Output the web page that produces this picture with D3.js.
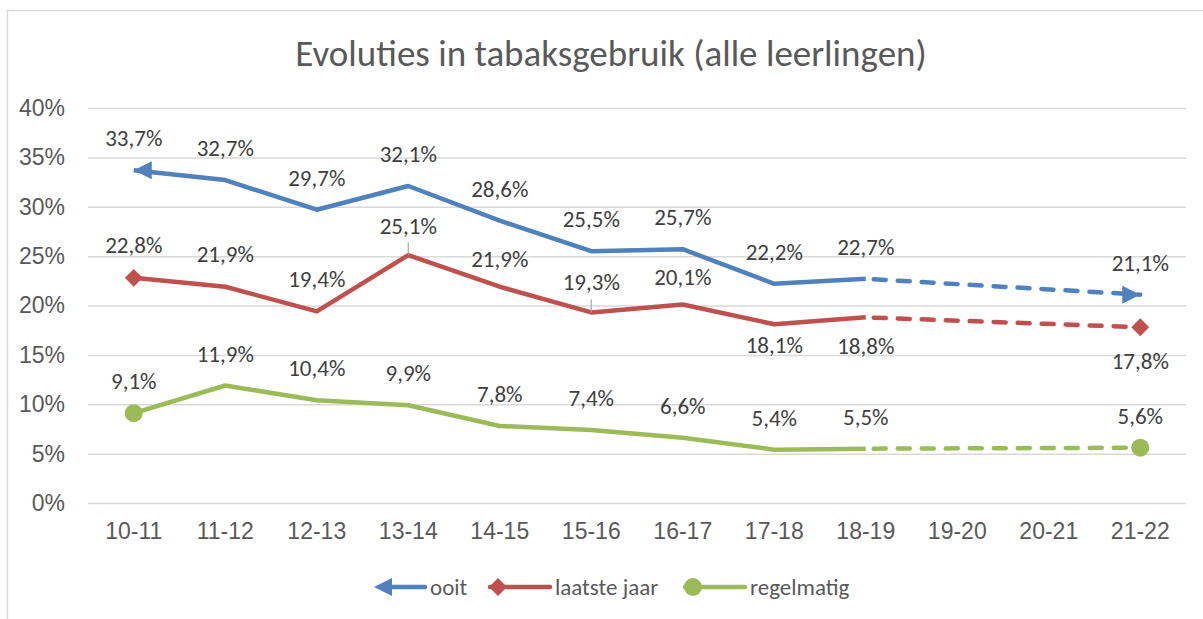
<!DOCTYPE html>
<html>
<head>
<meta charset="utf-8">
<script src="https://cdn.jsdelivr.net/npm/d3@7"></script>
<style>
    body { margin: 0; background: #ffffff; }
    svg { display: block; font-family: Calibri, Carlito, "Open Sans", sans-serif; }
</style>
</head>
<body>
<div id="content"></div>
<script>
// ******* DATA *******
const categories = ["10-11", "11-12", "12-13", "13-14", "14-15", "15-16", "16-17", "17-18", "18-19", "19-20", "20-21", "21-22"];
const ooit = [33.7, 32.7, 29.7, 32.1, 28.6, 25.5, 25.7, 22.2, 22.7, null, null, 21.1];
const laatsteJaar = [22.8, 21.9, 19.4, 25.1, 21.9, 19.3, 20.1, 18.1, 18.8, null, null, 17.8];
const regelmatig = [9.1, 11.9, 10.4, 9.9, 7.8, 7.4, 6.6, 5.4, 5.5, null, null, 5.6];
const yTicks = [0, 5, 10, 15, 20, 25, 30, 35, 40];
const seriesNames = ["ooit", "laatste jaar", "regelmatig"];


// ******* LAYOUT *******
const W = 1203, H = 619;
const margin = { left: 88, right: 17, top: 108, bottom: 116 };
const plotW = W - margin.left - margin.right;
const plotH = H - margin.top - margin.bottom;

const COLORS = ["#4f81bd", "#c0504d", "#9bbb59"];
const LINE_W = 4.5;
const FONT = "23px";

// label offsets (px from point to label centre), red series was moved by hand in the original
const redLabelDy = [-33, -33, -32, -29, -28, -30, -28, 21, 29, 0, 0, 34];
const redLeader = [false, false, false, true, false, true, false, false, false, false, false, false];

const svg = d3.select("#content").append("svg")
    .attr("width", W)
    .attr("height", H);

// chart border
svg.append("rect")
    .attr("x", 7.5).attr("y", 10.5)
    .attr("width", W + 20).attr("height", H + 20)
    .attr("fill", "none")
    .attr("stroke", "#d9d9d9")
    .attr("stroke-width", 1.5);

// title
svg.append("text")
    .attr("x", 611).attr("y", 66)
    .attr("text-anchor", "middle")
    .attr("fill", "#595959")
    .style("font-size", "37px")
    .text("Evoluties in tabaksgebruik (alle leerlingen)");

const g = svg.append("g").attr("transform", `translate(${margin.left},${margin.top})`);

// ******* SCALES & AXES *******
const x = d3.scaleBand().domain(categories).range([0, plotW]);
const y = d3.scaleLinear().domain([0, 40]).range([plotH, 0]);
const cx = d => x(d) + x.bandwidth() / 2;

const yAxis = g.append("g")
    .call(d3.axisLeft(y).tickValues(yTicks).tickSize(-plotW).tickPadding(23).tickFormat(d => d + "%"));
yAxis.select(".domain").remove();
yAxis.selectAll(".tick line").attr("stroke", "#d9d9d9").attr("stroke-width", 1.5);
yAxis.selectAll(".tick text")
    .attr("fill", "#595959")
    .style("font-size", FONT)
    .style("font-family", null);

const xAxis = g.append("g")
    .attr("transform", `translate(0,${plotH})`)
    .call(d3.axisBottom(x).tickSize(0).tickPadding(20));
xAxis.select(".domain").remove();
xAxis.selectAll(".tick text")
    .attr("fill", "#595959")
    .style("font-size", FONT)
    .style("font-family", null);

// ******* LINES *******
const allSeries = [ooit, laatsteJaar, regelmatig].map((vals, si) =>
    vals.map((v, i) => ({ cat: categories[i], v: v, i: i, si: si })));

const line = d3.line()
    .defined(d => d.v !== null)
    .x(d => cx(d.cat))
    .y(d => y(d.v));

allSeries.forEach((pts, si) => {
    const solid = pts.filter(d => d.i <= 8);
    const known = pts.filter(d => d.v !== null);
    const dashed = known.slice(known.length - 2);

    g.append("path")
        .datum(solid)
        .attr("d", line)
        .attr("fill", "none")
        .attr("stroke", COLORS[si])
        .attr("stroke-width", LINE_W)
        .attr("stroke-linejoin", "round");

    g.append("path")
        .datum(dashed)
        .attr("d", line)
        .attr("fill", "none")
        .attr("stroke", COLORS[si])
        .attr("stroke-width", LINE_W)
        .attr("stroke-linecap", "round")
        .attr("stroke-dasharray", "12,12")
        .attr("stroke-dashoffset", -8);

    // end markers
    const first = known[0], last = known[known.length - 1];
    [first, last].forEach((d, k) => drawMarker(g, si, cx(d.cat), y(d.v), k === 0 ? -1 : 1));
});

function drawMarker(sel, si, px, py, dir) {
    if (si === 0) {
        // arrow head, tip on the point
        sel.append("path")
            .attr("d", `M${px},${py} L${px - dir * 18},${py - 9} L${px - dir * 18},${py + 9} Z`)
            .attr("fill", COLORS[si]);
    } else if (si === 1) {
        sel.append("path")
            .attr("d", d3.symbol(d3.symbolSquare, 160)())
            .attr("transform", `translate(${px},${py}) rotate(45)`)
            .attr("fill", COLORS[si]);
    } else {
        sel.append("circle")
            .attr("cx", px).attr("cy", py).attr("r", 9)
            .attr("fill", COLORS[si]);
    }
}

// ******* DATA LABELS *******
allSeries.forEach((pts, si) => {
    pts.filter(d => d.v !== null).forEach(d => {
        const dy = si === 1 ? redLabelDy[d.i] : -32;
        const px = cx(d.cat), py = y(d.v);
        if (si === 1 && redLeader[d.i]) {
            g.append("line")
                .attr("x1", px).attr("x2", px)
                .attr("y1", py).attr("y2", py - 13)
                .attr("stroke", "#a6a6a6")
                .attr("stroke-width", 1.2);
        }
        g.append("text")
            .attr("x", px)
            .attr("y", py + dy)
            .attr("dy", "0.35em")
            .attr("text-anchor", "middle")
            .attr("fill", "#404040")
            .style("font-size", FONT)
            .text(d3.format(".1f")(d.v).replace(".", ",") + "%");
    });
});

// ******* LEGEND *******
const legendY = 587;
const legendItems = [
    { x0: 374, x1: 425, tx: 430 },
    { x0: 490, x1: 550, tx: 555 },
    { x0: 685, x1: 745, tx: 750 }
];
legendItems.forEach((it, si) => {
    svg.append("line")
        .attr("x1", it.x0 + (si === 0 ? 14 : 0)).attr("x2", it.x1)
        .attr("y1", legendY).attr("y2", legendY)
        .attr("stroke", COLORS[si])
        .attr("stroke-width", LINE_W)
        .attr("stroke-linecap", "round");
    if (si === 0) drawMarker(svg, si, it.x0, legendY, -1);
    else drawMarker(svg, si, it.x0 + 8, legendY, -1);
    svg.append("text")
        .attr("x", it.tx).attr("y", legendY)
        .attr("dy", "0.35em")
        .attr("fill", "#595959")
        .style("font-size", FONT)
        .text(seriesNames[si]);
});
</script>
</body>
</html>
